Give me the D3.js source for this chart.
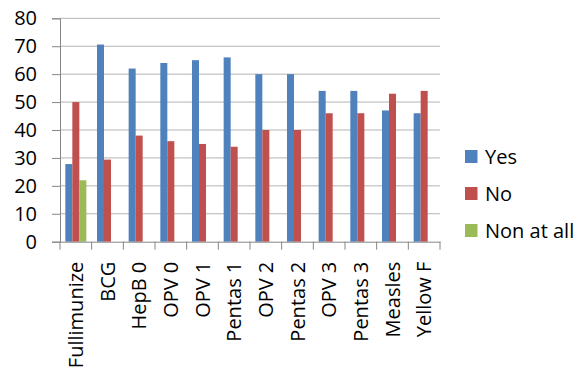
<!DOCTYPE html>
<html><head><meta charset="utf-8">
<script src="https://cdn.jsdelivr.net/npm/d3@7"></script>
<style>body{margin:0;background:#fff;} svg{display:block;}</style>
</head><body>
<script>
const categories = ["Fullimunize","BCG","HepB 0","OPV 0","OPV 1","Pentas 1","OPV 2","Pentas 2","OPV 3","Pentas 3","Measles","Yellow F"];
const seriesNames = ["Yes","No","Non at all"];
const yesValues = [27.8,70.6,62,64,65,66,60,60,54,54,47,46];
const noValues = [50,29.4,38,36,35,34,40,40,46,46,53,54];
const nonValues = [22,null,null,null,null,null,null,null,null,null,null,null];
const yTicks = [0,10,20,30,40,50,60,70,80];
const colors = ["#4F81BD","#C0504D","#9BBB59"];

const W=586,H=380;
const font = "'Open Sans', sans-serif";
const fs = 20;
const svg=d3.select("body").append("svg").attr("width",W).attr("height",H);
const x0=60,x1=440,yTop=18.3,yBot=241.7;
const x=d3.scaleBand().domain(categories).range([x0,x1]).paddingInner(0).paddingOuter(0);
const xs=d3.scaleBand().domain(seriesNames).range([0,x.bandwidth()]).paddingInner(0).paddingOuter(0.76);
const y=d3.scaleLinear().domain([0,80]).range([yBot,yTop]);

// gridlines
svg.append("g").selectAll("line").data(yTicks.filter(d=>d>0)).join("line")
 .attr("x1",x0).attr("x2",x1).attr("y1",d=>y(d)).attr("y2",d=>y(d))
 .attr("stroke","#B3B3B3").attr("stroke-width",1);

const series=[yesValues,noValues,nonValues];
series.forEach((vals,si)=>{
  svg.append("g").selectAll("rect").data(categories.map((c,i)=>({c,v:vals[i]})).filter(d=>d.v!=null)).join("rect")
   .attr("x",d=>x(d.c)+xs(seriesNames[si])).attr("width",xs.bandwidth())
   .attr("y",d=>y(d.v)).attr("height",d=>y(0)-y(d.v)).attr("fill",colors[si]);
});

// y axis
const ya=svg.append("g").attr("transform",`translate(${x0},0)`)
 .call(d3.axisLeft(y).tickValues(yTicks).tickSize(8).tickPadding(15));
ya.select(".domain").attr("stroke","#868686");
ya.selectAll(".tick line").attr("stroke","#868686");
ya.selectAll("text").attr("font-family",font).attr("font-size",fs).attr("fill","#000");

// x axis
const xa=svg.append("g").attr("transform",`translate(0,${yBot})`)
 .call(d3.axisBottom(x).tickSize(0).tickPadding(0));
xa.select(".domain").attr("stroke","#868686");
xa.selectAll(".tick line").remove();
const bounds=d3.range(categories.length+1).map(i=>x0+i*x.step());
xa.selectAll(".bnd").data(bounds).join("line").attr("class","bnd")
 .attr("x1",d=>d).attr("x2",d=>d).attr("y1",0).attr("y2",8).attr("stroke","#868686");
xa.selectAll(".tick text").attr("font-family",font).attr("font-size",fs).attr("fill","#000")
 .attr("transform","rotate(-90)").attr("text-anchor","end").attr("dy","0.35em").attr("x",-20).attr("y",0);

// legend
const lg=svg.append("g").attr("transform","translate(465,150)");
seriesNames.forEach((n,i)=>{
  const g=lg.append("g").attr("transform",`translate(0,${i*37})`);
  g.append("rect").attr("width",12.5).attr("height",13).attr("fill",colors[i]);
  g.append("text").attr("x",20).attr("y",6.5).attr("dy","0.35em").attr("font-family",font).attr("font-size",fs).text(n);
});
</script>
</body></html>
